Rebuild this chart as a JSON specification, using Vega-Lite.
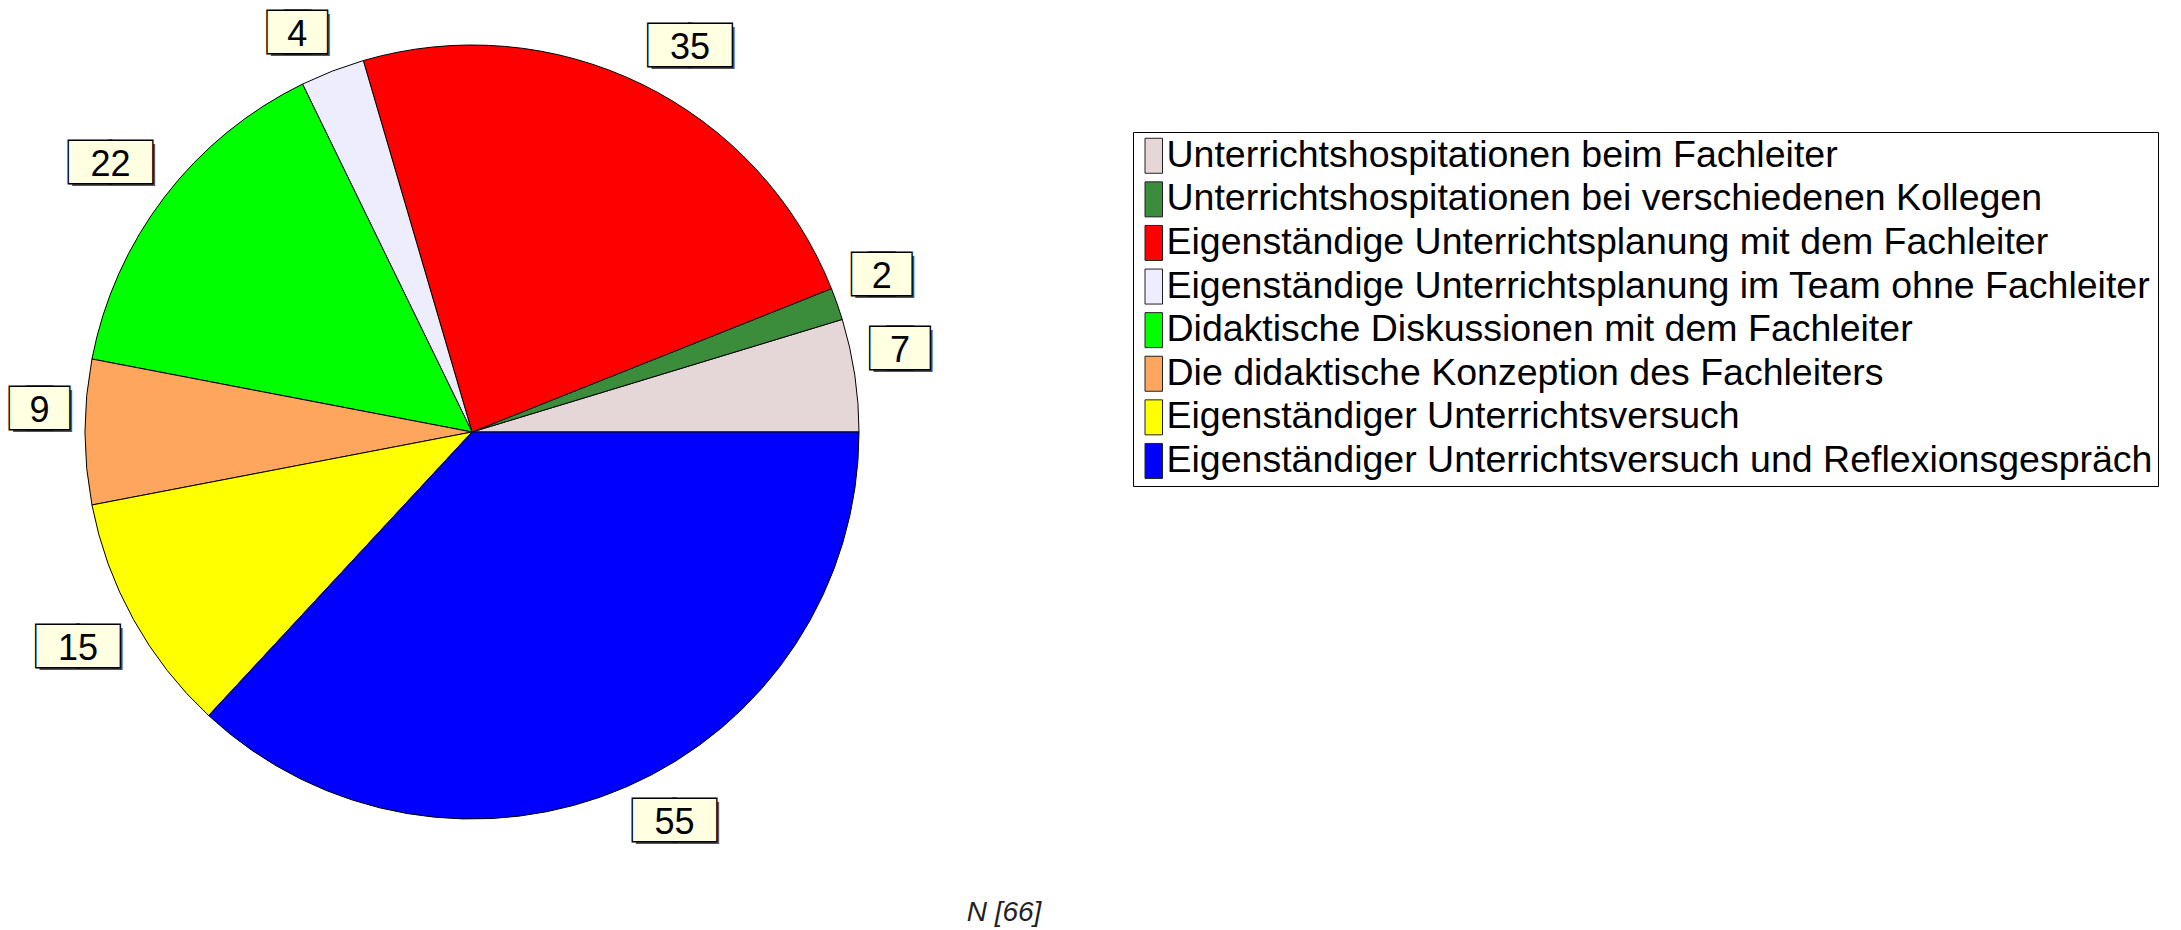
{
  "$schema": "https://vega.github.io/schema/vega-lite/v6.json",
  "width": 944,
  "height": 864,
  "autosize": {"type": "none"},
  "padding": {"left": 0, "top": 0, "right": 1237, "bottom": 66},
  "background": "white",
  "config": {
    "view": {"stroke": null},
    "legend": {
      "orient": "none",
      "legendX": 1133,
      "legendY": 132,
      "title": null,
      "symbolType": "M-0.5,-1H0.5V1H-0.5Z",
      "symbolSize": 1225,
      "symbolStrokeColor": "#222",
      "symbolStrokeWidth": 1,
      "symbolOffset": -3,
      "labelFont": "Liberation Sans",
      "labelFontSize": 37.5,
      "labelColor": "black",
      "labelLimit": 2000,
      "rowPadding": 3.6,
      "padding": 5,
      "labelOffset": -6,
      "strokeColor": "black",
      "fillColor": "white"
    }
  },
  "title": {
    "text": "N [66]",
    "orient": "bottom",
    "anchor": "middle",
    "frame": "group",
    "font": "Liberation Sans",
    "fontSize": 28,
    "fontStyle": "italic",
    "fontWeight": "normal",
    "color": "#222",
    "dx": 532,
    "offset": 57,
    "baseline": "alphabetic"
  },
  "data": {
    "values": [
      {"Nr": 1, "Kategorie": "Unterrichtshospitationen beim Fachleiter", "Anzahl": 7},
      {"Nr": 2, "Kategorie": "Unterrichtshospitationen bei verschiedenen Kollegen", "Anzahl": 2},
      {"Nr": 3, "Kategorie": "Eigenständige Unterrichtsplanung mit dem Fachleiter", "Anzahl": 35},
      {"Nr": 4, "Kategorie": "Eigenständige Unterrichtsplanung im Team ohne Fachleiter", "Anzahl": 4},
      {"Nr": 5, "Kategorie": "Didaktische Diskussionen mit dem Fachleiter", "Anzahl": 22},
      {"Nr": 6, "Kategorie": "Die didaktische Konzeption des Fachleiters", "Anzahl": 9},
      {"Nr": 7, "Kategorie": "Eigenständiger Unterrichtsversuch", "Anzahl": 15},
      {"Nr": 8, "Kategorie": "Eigenständiger Unterrichtsversuch und Reflexionsgespräch", "Anzahl": 55}
    ]
  },
  "encoding": {
    "theta": {"field": "Anzahl", "type": "quantitative", "stack": true, "scale": {"range": [1.5708, -4.7124]}},
    "order": {"field": "Nr", "type": "quantitative", "sort": "ascending"},
    "color": {
      "field": "Kategorie",
      "type": "nominal",
      "scale": {
        "domain": [
          "Unterrichtshospitationen beim Fachleiter",
          "Unterrichtshospitationen bei verschiedenen Kollegen",
          "Eigenständige Unterrichtsplanung mit dem Fachleiter",
          "Eigenständige Unterrichtsplanung im Team ohne Fachleiter",
          "Didaktische Diskussionen mit dem Fachleiter",
          "Die didaktische Konzeption des Fachleiters",
          "Eigenständiger Unterrichtsversuch",
          "Eigenständiger Unterrichtsversuch und Reflexionsgespräch"
        ],
        "range": ["#E5D7D7", "#3B8C3B", "#FF0000", "#EDEDFD", "#00FF00", "#FFA65E", "#FFFF00", "#0000FF"]
      }
    }
  },
  "layer": [
    {"mark": {"type": "arc", "outerRadius": 387, "stroke": "black", "strokeWidth": 1}},
    {"mark": {"type": "text", "radius": 403, "font": "Noto Sans CJK SC", "fontSize": 42, "align": "center", "baseline": "middle",
      "dx": {"expr": "(sin(scale('theta', 0.5*datum.Anzahl_start + 0.5*datum.Anzahl_end)) >= 0 ? 1 : -1) * (datum.Anzahl >= 10 ? 41.5 : 29.5) - (datum.Anzahl >= 10 ? 20.5 : 8.5) + 3"},
      "dy": {"expr": "(-cos(scale('theta', 0.5*datum.Anzahl_start + 0.5*datum.Anzahl_end)) > 0.01 ? 1 : -1) * 21.5 + 3"}},
      "encoding": {"text": {"value": "█"}, "fill": {"value": "#555555"}}},
    {"mark": {"type": "text", "radius": 403, "font": "Noto Sans CJK SC", "fontSize": 42, "align": "center", "baseline": "middle",
      "dx": {"expr": "(sin(scale('theta', 0.5*datum.Anzahl_start + 0.5*datum.Anzahl_end)) >= 0 ? 1 : -1) * (datum.Anzahl >= 10 ? 41.5 : 29.5) + (datum.Anzahl >= 10 ? 20.5 : 8.5) + 3"},
      "dy": {"expr": "(-cos(scale('theta', 0.5*datum.Anzahl_start + 0.5*datum.Anzahl_end)) > 0.01 ? 1 : -1) * 21.5 + 3"}},
      "encoding": {"text": {"value": "█"}, "fill": {"value": "#555555"}}},
    {"mark": {"type": "text", "radius": 403, "font": "Noto Sans CJK SC", "fontSize": 42, "align": "center", "baseline": "middle", "strokeWidth": 3,
      "dx": {"expr": "(sin(scale('theta', 0.5*datum.Anzahl_start + 0.5*datum.Anzahl_end)) >= 0 ? 1 : -1) * (datum.Anzahl >= 10 ? 41.5 : 29.5) - (datum.Anzahl >= 10 ? 20.5 : 8.5)"},
      "dy": {"expr": "(-cos(scale('theta', 0.5*datum.Anzahl_start + 0.5*datum.Anzahl_end)) > 0.01 ? 1 : -1) * 21.5"}},
      "encoding": {"text": {"value": "█"}, "fill": {"value": "black"}, "stroke": {"value": "black"}}},
    {"mark": {"type": "text", "radius": 403, "font": "Noto Sans CJK SC", "fontSize": 42, "align": "center", "baseline": "middle", "strokeWidth": 3,
      "dx": {"expr": "(sin(scale('theta', 0.5*datum.Anzahl_start + 0.5*datum.Anzahl_end)) >= 0 ? 1 : -1) * (datum.Anzahl >= 10 ? 41.5 : 29.5) + (datum.Anzahl >= 10 ? 20.5 : 8.5)"},
      "dy": {"expr": "(-cos(scale('theta', 0.5*datum.Anzahl_start + 0.5*datum.Anzahl_end)) > 0.01 ? 1 : -1) * 21.5"}},
      "encoding": {"text": {"value": "█"}, "fill": {"value": "black"}, "stroke": {"value": "black"}}},
    {"mark": {"type": "text", "radius": 403, "font": "Noto Sans CJK SC", "fontSize": 42, "align": "center", "baseline": "middle",
      "dx": {"expr": "(sin(scale('theta', 0.5*datum.Anzahl_start + 0.5*datum.Anzahl_end)) >= 0 ? 1 : -1) * (datum.Anzahl >= 10 ? 41.5 : 29.5) - (datum.Anzahl >= 10 ? 20.5 : 8.5)"},
      "dy": {"expr": "(-cos(scale('theta', 0.5*datum.Anzahl_start + 0.5*datum.Anzahl_end)) > 0.01 ? 1 : -1) * 21.5"}},
      "encoding": {"text": {"value": "█"}, "fill": {"value": "#FFFFE1"}}},
    {"mark": {"type": "text", "radius": 403, "font": "Noto Sans CJK SC", "fontSize": 42, "align": "center", "baseline": "middle",
      "dx": {"expr": "(sin(scale('theta', 0.5*datum.Anzahl_start + 0.5*datum.Anzahl_end)) >= 0 ? 1 : -1) * (datum.Anzahl >= 10 ? 41.5 : 29.5) + (datum.Anzahl >= 10 ? 20.5 : 8.5)"},
      "dy": {"expr": "(-cos(scale('theta', 0.5*datum.Anzahl_start + 0.5*datum.Anzahl_end)) > 0.01 ? 1 : -1) * 21.5"}},
      "encoding": {"text": {"value": "█"}, "fill": {"value": "#FFFFE1"}}},
    {"mark": {"type": "text", "radius": 403, "font": "Liberation Sans", "fontSize": 36, "align": "center", "baseline": "middle",
      "dx": {"expr": "(sin(scale('theta', 0.5*datum.Anzahl_start + 0.5*datum.Anzahl_end)) >= 0 ? 1 : -1) * (datum.Anzahl >= 10 ? 41.5 : 29.5)"},
      "dy": {"expr": "(-cos(scale('theta', 0.5*datum.Anzahl_start + 0.5*datum.Anzahl_end)) > 0.01 ? 1 : -1) * 21.5"}},
      "encoding": {"text": {"field": "Anzahl", "type": "quantitative"}, "fill": {"value": "black"}}}
  ]
}
